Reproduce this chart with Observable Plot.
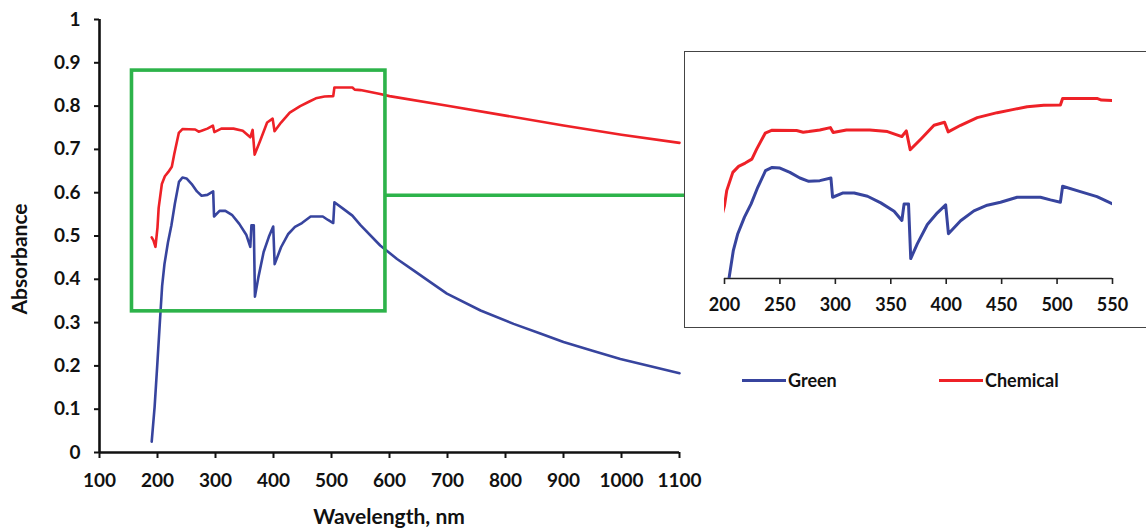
<!DOCTYPE html>
<html><head><meta charset="utf-8">
<script src="https://cdn.jsdelivr.net/npm/d3@7"></script>
<script src="https://cdn.jsdelivr.net/npm/@observablehq/plot@0.6"></script>
<style>
body{margin:0;background:#fff;}
#wrap{position:relative;width:1146px;height:532px;overflow:hidden;background:#fff;font-family:Lato,"Open Sans",sans-serif;font-weight:700;color:#111;}
#wrap svg{position:absolute;background:transparent;}
#insetBox{position:absolute;left:684px;top:51px;width:480px;height:277px;border:1.6px solid #444;border-right:none;box-sizing:border-box;}
.ylab{position:absolute;left:18px;top:259px;transform:translate(-50%,-50%) rotate(-90deg);font-size:21px;white-space:nowrap;}
.xlab{position:absolute;left:389px;top:515px;transform:translate(-50%,-50%);font-size:21px;white-space:nowrap;}
.leg{position:absolute;top:380px;transform:translateY(-50%);display:flex;align-items:center;font-size:18px;}
.leg span.sw{display:inline-block;width:44px;height:3px;margin-right:2px;}
</style></head><body><div id="wrap"></div>
<script>
// ---- data ----
const seriesNames = ["Green", "Chemical"];
const seriesColors = ["#37449e", "#ee2127"];

const greenWavelength = [190, 195, 199.5, 204.5, 208, 212, 218, 224, 230, 237, 243, 250, 259, 268, 276, 286, 296, 297.5, 307, 317, 329, 341, 353, 360, 362, 366, 368, 374, 383, 392, 399.5, 402, 413, 425, 437, 449, 464, 485, 494, 503, 505, 521, 536, 550, 584, 613, 642, 671, 699, 757, 814, 860, 900, 950, 998, 1050, 1100];
const greenAbsorbance = [0.025, 0.105, 0.2, 0.31, 0.385, 0.435, 0.485, 0.525, 0.575, 0.625, 0.635, 0.633, 0.62, 0.603, 0.593, 0.595, 0.603, 0.545, 0.558, 0.558, 0.548, 0.528, 0.503, 0.475, 0.525, 0.525, 0.36, 0.405, 0.463, 0.498, 0.522, 0.435, 0.474, 0.504, 0.521, 0.53, 0.545, 0.545, 0.537, 0.53, 0.578, 0.562, 0.547, 0.525, 0.478, 0.447, 0.42, 0.393, 0.367, 0.328, 0.297, 0.275, 0.255, 0.235, 0.216, 0.199, 0.183];

const chemWavelength = [190, 193, 196.5, 200, 202, 207.5, 212.7, 218.7, 224.7, 229, 236.7, 243, 265, 271, 276, 286, 295.5, 298, 310, 331, 347, 360, 364, 367.5, 377, 389, 398.5, 401.8, 413, 428, 446, 461, 473, 488, 503, 505, 536, 540, 550, 584, 600, 700, 800, 900, 1000, 1100];
const chemAbsorbance = [0.497, 0.49, 0.475, 0.52, 0.565, 0.62, 0.638, 0.648, 0.66, 0.69, 0.738, 0.747, 0.746, 0.741, 0.743, 0.748, 0.755, 0.74, 0.748, 0.748, 0.743, 0.728, 0.745, 0.688, 0.72, 0.762, 0.771, 0.742, 0.762, 0.785, 0.8, 0.81, 0.818, 0.822, 0.823, 0.843, 0.843, 0.838, 0.837, 0.828, 0.823, 0.801, 0.778, 0.755, 0.734, 0.715];

const mainXTicks = [100, 200, 300, 400, 500, 600, 700, 800, 900, 1000, 1100];
const mainYTicks = [0, 0.1, 0.2, 0.3, 0.4, 0.5, 0.6, 0.7, 0.8, 0.9, 1];
const insetXTicks = [200, 250, 300, 350, 400, 450, 500, 550];
const insetXDomain = [200, 550];
const insetYDomain = [0.3, 0.9];

// zoom box annotation (data units) and connector to the inset
const zoomBox = [{x1: 156, x2: 593, y1: 0.326, y2: 0.882}];
const connector = [{y: 0.594, x1: 593, x2: 1109}];

// ---- build tables ----
const rows = [
  ...greenWavelength.map((w, i) => ({wavelength: w, absorbance: greenAbsorbance[i], series: "Green"})),
  ...chemWavelength.map((w, i) => ({wavelength: w, absorbance: chemAbsorbance[i], series: "Chemical"}))
];
const boxGreen = "#2db34a";
const fmtY = d => String(+d.toFixed(1));
const fmtX = d => String(d);

const wrap = document.getElementById("wrap");

const main = Plot.plot({
  width: 712, height: 532,
  marginLeft: 99, marginRight: 33, marginTop: 19, marginBottom: 80,
  style: {fontFamily: "Lato, 'Open Sans', sans-serif", fontWeight: 700, fontSize: "19px", color: "#111", background: "transparent"},
  x: {domain: [100, 1100]},
  y: {domain: [0, 1]},
  color: {domain: seriesNames, range: seriesColors},
  marks: [
    Plot.axisX({ticks: mainXTicks, tickFormat: fmtX, tickSize: 6, tickPadding: 15, strokeWidth: 2, label: null, fontSize: 19, stroke: "#111"}),
    Plot.axisY({ticks: mainYTicks, tickSize: 5, tickPadding: 14, strokeWidth: 2, label: null, tickFormat: fmtY, fontSize: 19, stroke: "#111"}),
    Plot.line(rows, {x: "wavelength", y: "absorbance", z: "series", stroke: "series", strokeWidth: 2.6}),
    Plot.rect(zoomBox, {x1: "x1", x2: "x2", y1: "y1", y2: "y2", fill: "none", stroke: boxGreen, strokeWidth: 3.6}),
    Plot.ruleY(connector, {y: "y", x1: "x1", x2: "x2", stroke: boxGreen, strokeWidth: 3.6}),
    Plot.ruleX([100], {stroke: "#111", strokeWidth: 2.6}),
    Plot.ruleY([0], {stroke: "#111", strokeWidth: 2.6})
  ]
});
main.style.left = "0px"; main.style.top = "0px";
wrap.appendChild(main);

const box = document.createElement("div"); box.id = "insetBox"; wrap.appendChild(box);

const inset = Plot.plot({
  width: 461, height: 276,
  marginLeft: 39, marginRight: 34, marginTop: 27, marginBottom: 50,
  style: {fontFamily: "Lato, 'Open Sans', sans-serif", fontWeight: 700, fontSize: "18px", color: "#111", background: "transparent"},
  x: {domain: insetXDomain},
  y: {domain: insetYDomain, axis: null},
  color: {domain: seriesNames, range: seriesColors},
  marks: [
    Plot.axisX({ticks: insetXTicks, tickFormat: fmtX, tickSize: 6, tickPadding: 14, strokeWidth: 1.6, label: null, fontSize: 18, stroke: "#222"}),
    Plot.ruleY([insetYDomain[0]], {stroke: "#222", strokeWidth: 1.6}),
    Plot.line(rows, {x: "wavelength", y: "absorbance", z: "series", stroke: "series", strokeWidth: 3, clip: true})
  ]
});
inset.style.left = "685px"; inset.style.top = "52px";
wrap.appendChild(inset);

const yl = document.createElement("div"); yl.className = "ylab"; yl.textContent = "Absorbance"; wrap.appendChild(yl);
const xl = document.createElement("div"); xl.className = "xlab"; xl.textContent = "Wavelength, nm"; wrap.appendChild(xl);

[[742, 0], [939, 1]].forEach(([left, i]) => {
  const d = document.createElement("div"); d.className = "leg"; d.style.left = left + "px";
  const sw = document.createElement("span"); sw.className = "sw"; sw.style.background = seriesColors[i];
  const t = document.createElement("span"); t.textContent = seriesNames[i];
  d.appendChild(sw); d.appendChild(t); wrap.appendChild(d);
});
</script>
</body></html>
